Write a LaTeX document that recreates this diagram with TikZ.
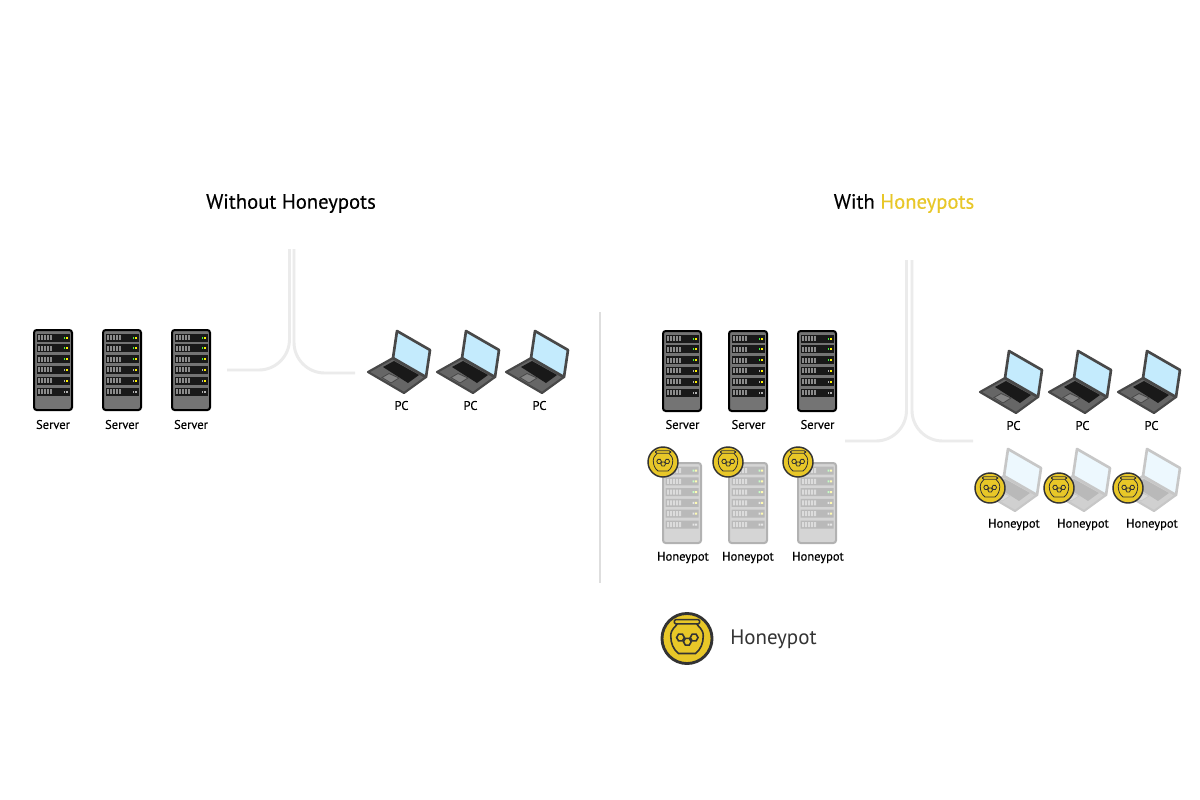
\documentclass[tikz,border=0pt]{standalone}
\usepackage{fontspec}
\setmainfont{PT Sans}
\newfontfamily\tagfont[FakeBold=0.3]{PT Sans}
\definecolor{honey}{HTML}{E8C728}
\definecolor{jarline}{HTML}{333333}
\definecolor{wire}{HTML}{EBEBEB}
\definecolor{rack}{HTML}{747474}
\definecolor{slot}{HTML}{8C8C8C}
\definecolor{lcd}{HTML}{C4EBFD}
\definecolor{shell}{HTML}{666666}
\definecolor{lid}{HTML}{484848}
\tikzset{
  tag/.style={font=\tagfont\fontsize{9.4}{11}\selectfont,inner sep=0pt},
  title/.style={font=\tagfont\fontsize{15.5}{18}\selectfont,inner sep=0pt},
  link/.style={wire,line width=2.2pt,rounded corners=23pt},
  pics/server/.style={code={
    \draw[line width=1.5pt,fill=rack,rounded corners=2pt] (1,1) rectangle (39,81);
    \foreach \r/\ledA/\ledB in {0/green!75!white/yellow,1/green!75!white/yellow,2/green!75!white/yellow,3/gray!60/yellow,4/gray!60/yellow,5/gray!60/gray!60}{
      \fill[black!90] (3.5,4.5+10.8*\r) rectangle (36.5,12.5+10.8*\r);
      \foreach \b in {5,8,11,14,17}
        \fill[slot] (\b,6+10.8*\r) rectangle (\b+2,11+10.8*\r);
      \fill[\ledA] (30.5,7.5+10.8*\r) rectangle (32.3,9.5+10.8*\r);
      \fill[\ledB] (33.2,7.5+10.8*\r) rectangle (35,9.5+10.8*\r);
    }
  }},
  pics/laptop/.style={code={
    \draw[lid,line width=1.6pt,fill=shell,line join=round] (1,42) -- (26,28) -- (59,47) -- (37,63) -- cycle;
    \fill[black!90] (16,37) -- (27,31) -- (52,45) -- (41,53) -- cycle;
    \draw[lid,line width=.6pt,fill=shell!80] (15,47.5) -- (22,43.5) -- (32,48) -- (24,53) -- cycle;
    \draw[lid,line width=2pt,fill=lcd,line join=round] (26,28) -- (30,1) -- (63,20) -- (59,47) -- cycle;
  }},
  pics/badge/.style={code={
    \draw[jarline,line width=1.8*#1,fill=honey] (0,0) circle (77);
    \draw[jarline,line width=#1,rounded corners=1pt] (-39,-58) rectangle (39,-45);
    \draw[jarline,line width=#1] (-30,-45) .. controls (-34,-36) and (-50,-30) .. (-50,-8)
      .. controls (-50,15) and (-42,34) .. (-26,46) -- (26,46)
      .. controls (42,34) and (50,15) .. (50,-8)
      .. controls (50,-30) and (34,-36) .. (30,-45);
    \foreach \hx/\hy in {-20/-3,1/10,22/-3}
      \draw[jarline,line width=#1] (\hx-12,\hy) -- (\hx-6,\hy-10.4) -- (\hx+6,\hy-10.4)
        -- (\hx+12,\hy) -- (\hx+6,\hy+10.4) -- (\hx-6,\hy+10.4) -- cycle;
  }}
}
\begin{document}
\begin{tikzpicture}[x=0.75pt,y=-0.75pt]
  \useasboundingbox[fill=white] (0,0) rectangle (1200,800);
  % left half
  \node[title] (titleA) at (291,203.5) {Without Honeypots};
  \coordinate (hubA1) at (289.5,249);
  \coordinate (hubA2) at (294,249);
  \coordinate (feedA1) at (227,370);
  \coordinate (feedA2) at (355,373);
  \draw[link] (feedA1) -| (hubA1);
  \draw[link] (feedA2) -| (hubA2);
  \foreach \x/\n in {33/1,102/2,171/3}{
    \pic at (\x,329) {server};
    \node[tag] (srvA\n) at (\x+20,424.5) {Server};
  }
  \foreach \x/\n in {367/1,436/2,505/3}{
    \pic at (\x,330) {laptop};
    \node[tag] (pcA\n) at (\x+34.5,405.5) {PC};
  }
  % divider
  \coordinate (divT) at (600,312);
  \coordinate (divB) at (600,583);
  \draw[black!13,line width=1.5pt] (divT) -- (divB);
  % right half
  \node[title] (titleB) at (904,203.5) {With \textcolor{honey}{Honeypots}};
  \coordinate (hubB1) at (906.5,260);
  \coordinate (hubB2) at (912,260);
  \coordinate (feedB1) at (845,441);
  \coordinate (feedB2) at (973,441);
  \draw[link] (feedB1) -| (hubB1);
  \draw[link] (feedB2) -| (hubB2);
  \foreach \x/\n in {662/1,728/2,797/3}{
    \pic at (\x,330) {server};
    \node[tag] (srvB\n) at (\x+20.5,424.5) {Server};
  }
  \foreach \x/\n in {979/1,1048/2,1117/3}{
    \pic at (\x,350) {laptop};
    \node[tag] (pcB\n) at (\x+34.5,425.5) {PC};
  }
  % faded ones
  \begin{scope}[transparency group,opacity=.3]
    \foreach \x in {662,728,797}
      \pic at (\x,462) {server};
    \foreach \x in {978,1047,1117}
      \pic at (\x,448) {laptop};
  \end{scope}
  \foreach \x/\n in {663/1,728/2,798/3}{
    \pic[scale=.1948] at (\x,462) {badge={.6pt}};
    \node[tag] (potS\n) at (\x+20,557.5) {Honeypot};
  }
  \foreach \x/\n in {990/1,1059/2,1128/3}{
    \pic[scale=.1948] at (\x,488) {badge={.6pt}};
    \node[tag] (potP\n) at (\x+24,524.5) {Honeypot};
  }
  % legend
  \pic[scale=.325] at (687,638.5) {badge={1.2pt}};
  \node[font=\fontsize{15.7}{18}\selectfont,text=jarline,inner sep=0pt,anchor=west] (legend) at (730,639.5) {Honeypot};
\end{tikzpicture}
\end{document}
